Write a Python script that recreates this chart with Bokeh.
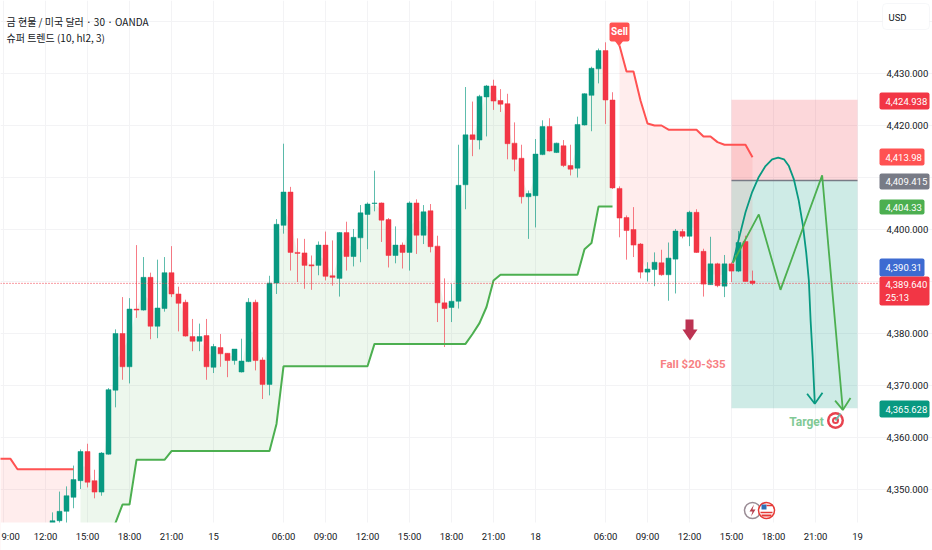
from bokeh.plotting import figure
from bokeh.models import (ColumnDataSource, FixedTicker, NumeralTickFormatter, Label, BoxAnnotation)
from bokeh.embed import file_html
from bokeh.resources import INLINE

# ---- data -------------------------------------------------------------
first_bar = 1
open_ = [4343.4,4344.0,4345.8,4348.5,4351.7,4357.3,4351.7,4349.5,4356.8,4369.1,
 4380.0,4373.6,4384.7,4384.5,4390.8,4381.4,4384.8,4391.7,4387.6,4386.0,
 4379.4,4378.5,4379.6,4373.5,4377.3,4376.2,4374.8,4372.6,4374.6,4386.0,
 4374.9,4370.2,4389.7,4400.8,4407.2,4395.6,4395.5,4393.2,4393.1,4397.0,
 4391.1,4390.6,4399.4,4394.8,4398.4,4402.9,4405.0,4405.1,4401.9,4395.0,
 4397.0,4395.6,4405.1,4398.9,4403.6,4396.8,4385.9,4385.0,4386.2,4408.6,
 4418.2,4417.2,4425.5,4427.6,4424.8,4424.2,4416.6,4413.7,4406.3,4406.5,
 4414.4,4419.8,4414.8,4416.1,4412.3,4411.8,4420.1,4425.8,4430.9,4434.4,
 4424.9,4407.9,4402.3,4400.0,4397.2,4391.8,4392.3,4393.6,4391.3,4394.3,
 4399.6,4398.7,4403.3,4395.8,4389.4,4393.4,4389.1,4393.4,4392.0,4397.7,4390.1]
high = [4345.6,4349.6,4350.6,4354.6,4357.7,4358.8,4353.8,4357.2,4369.5,4380.8,
 4387.0,4386.8,4397.0,4394.7,4391.7,4394.2,4394.7,4396.8,4389.0,4386.5,
 4382.8,4381.9,4382.8,4378.0,4379.9,4376.2,4377.0,4379.0,4386.8,4386.5,
 4375.4,4391.1,4402.0,4416.5,4408.2,4398.3,4398.2,4395.0,4397.7,4399.6,
 4397.9,4399.5,4401.5,4400.1,4404.7,4405.2,4411.3,4405.2,4402.2,4400.6,
 4397.5,4405.4,4405.8,4404.7,4404.9,4398.8,4390.6,4389.5,4416.3,4427.4,
 4424.6,4425.9,4427.8,4428.8,4427.0,4426.1,4420.6,4416.3,4407.5,4417.4,
 4421.0,4421.4,4416.7,4417.2,4416.3,4421.7,4426.2,4431.3,4434.8,4436.0,
 4426.4,4408.3,4402.7,4404.3,4397.4,4393.7,4395.6,4396.1,4397.5,4400.1,
 4400.1,4403.6,4403.9,4396.3,4398.6,4393.6,4395.1,4393.7,4399.7,4398.8,4392.1]
low = [4342.5,4343.0,4342.5,4346.4,4350.1,4350.4,4348.3,4348.8,4356.7,4365.8,
 4371.1,4370.4,4383.0,4384.4,4378.9,4379.1,4384.2,4387.0,4380.4,4379.4,
 4376.6,4376.6,4371.1,4372.4,4373.6,4371.6,4374.0,4372.5,4374.5,4372.9,
 4367.4,4368.1,4387.6,4399.2,4392.1,4389.9,4388.6,4388.4,4391.2,4390.2,
 4389.2,4387.1,4392.1,4392.9,4393.7,4396.2,4403.5,4397.6,4392.7,4393.5,
 4392.5,4392.1,4395.3,4397.2,4395.6,4382.2,4377.4,4382.2,4384.8,4403.9,
 4414.1,4415.4,4417.9,4423.0,4422.6,4413.5,4411.2,4405.0,4398.2,4400.4,
 4414.3,4415.0,4414.7,4412.0,4410.4,4410.0,4420.0,4418.9,4428.1,4420.3,
 4407.8,4398.5,4394.2,4394.7,4390.6,4390.0,4389.1,4391.1,4386.3,4387.7,
 4398.3,4396.8,4395.5,4387.1,4389.4,4388.9,4387.0,4389.9,4391.8,4390.0,4389.3]
close = [4344.0,4345.8,4348.8,4351.9,4357.3,4351.4,4349.5,4357.0,4369.2,4380.0,
 4373.6,4384.7,4384.5,4390.8,4381.4,4384.9,4391.7,4387.6,4385.8,4379.5,
 4378.5,4379.4,4373.6,4377.5,4376.1,4374.8,4377.0,4374.7,4386.0,4374.8,
 4370.2,4389.7,4401.0,4407.2,4395.6,4395.4,4393.1,4393.0,4397.0,4391.0,
 4390.8,4399.4,4394.8,4398.5,4403.2,4404.9,4405.1,4401.8,4395.0,4397.0,
 4395.6,4405.1,4398.9,4403.4,4396.7,4385.9,4384.8,4386.2,4408.5,4418.2,
 4417.3,4425.6,4427.6,4424.7,4424.1,4416.5,4413.5,4406.3,4406.9,4414.5,
 4419.8,4415.1,4416.6,4412.3,4411.6,4420.2,4426.1,4431.0,4434.4,4424.9,
 4408.0,4402.2,4399.8,4397.0,4391.8,4392.4,4393.7,4391.3,4394.5,4399.7,
 4398.7,4403.3,4395.6,4389.5,4393.4,4389.2,4393.4,4392.0,4397.5,4390.0,4389.64]

# supertrend: red from bar -7 to 4, green from bar 5 to 81, red from bar 82 to 101
trend_red_left = [4355.9,4355.9,4355.9,4353.9,4353.9,4353.9,4353.9,4353.9,4353.9,4353.9,4353.9,4353.9]
mid_left = [4335.0,4335.0,4335.0,4335.0,4335.0,4335.0,4335.0,4335.0]
trend_green = [4333.0,4333.0,4336.0,4338.0,4340.0,4343.6,4347.1,4347.1,
 4355.7,4355.7,4355.7,4355.7,4355.7,
 4357.4,4357.4,4357.4,4357.4,4357.4,4357.4,4357.4,4357.4,4357.4,4357.4,4357.4,4357.4,4357.4,4357.4,4357.4,
 4362.6,
 4373.7,4373.7,4373.7,4373.7,4373.7,4373.7,4373.7,4373.7,4373.7,4373.7,4373.7,4373.7,4373.7,
 4378.0,4378.0,4378.0,4378.0,4378.0,4378.0,4378.0,4378.0,4378.0,4378.0,4378.0,4378.0,4378.0,4378.0,
 4379.9,4382.0,4385.1,4390.2,
 4391.3,4391.3,4391.3,4391.3,4391.3,4391.3,4391.3,4391.3,4391.3,4391.3,4391.3,4391.3,
 4396.2,4397.4,4404.4,4404.4,4404.4]
trend_red_right = [4435.4,4430.4,4430.4,4424.8,4420.4,4420.0,4420.0,4419.2,4419.2,4419.2,
 4419.2,4419.2,4417.9,4417.9,4416.8,4416.3,4416.3,4416.3,4416.3,4413.9]

tick_bars = [-6,0,6,12,18,24,34,40,46,52,58,64,70,80,86,92,98,104,110,116]
tick_text = ["","12:00","15:00","18:00","21:00","15","06:00","09:00","12:00","15:00",
             "18:00","21:00","18","06:00","09:00","12:00","15:00","18:00","21:00","19"]
price_ticks = [4350,4360,4370,4380,4390,4400,4410,4420,4430,4440]

last_price = 4389.64
stop_price = 4424.938
entry_price = 4409.415
target_price = 4365.628
position_start = 98
position_end = 116

teal_x = [98.2,99.05,100.0,100.95,101.9,102.86,103.8,104.67,105.5,106.2,106.9,107.6,108.2,108.67,109.05,109.3,109.6,109.9]
teal_y = [4393.6,4398.2,4403.3,4407.2,4410.1,4412.2,4413.5,4413.8,4413.5,4412.2,4409.7,4405.6,4400.8,4395.6,4390.2,4382.5,4375.4,4366.5]
teal_head_x = [108.8,109.9,111.0]
teal_head_y = [4368.4,4366.5,4368.6]
path_x = [98.2,101.9,105.0,110.95,113.9]
path_y = [4393.6,4402.9,4388.4,4410.4,4365.3]
path_head_x = [112.8,113.9,115.0]
path_head_y = [4367.1,4365.3,4367.6]

# ---- style ------------------------------------------------------------
GREEN, RED = "#089981", "#F23645"
TG, TR = "#4CAF50", "#FF5252"
FONT = "Roboto"
SMALL = "9.5px"

def dx(px):
    return (px - 45) / 7
def py(y):
    return 4400 - (y - 229) / 5.2

p = figure(width=932, height=550,
           output_backend="svg", toolbar_location=None,
           x_range=(dx(0), dx(932)), y_range=(py(550), py(0)),
           y_axis_location="right", min_border_left=0, min_border_top=0,
           min_border_right=0, min_border_bottom=0, outline_line_color=None,
           background_fill_color="white", border_fill_color="white")

for ax in (p.xaxis[0], p.yaxis[0]):
    ax.axis_line_color = None
    ax.major_tick_line_color = None
    ax.minor_tick_line_color = None
    ax.major_label_text_color = "#131722"
    ax.major_label_text_font = FONT
    ax.major_label_text_font_size = SMALL
p.xaxis[0].ticker = FixedTicker(ticks=tick_bars)
p.xaxis[0].major_label_overrides = dict(zip(tick_bars, tick_text))
p.xaxis[0].major_label_standoff = 2
p.xaxis[0].fixed_location = py(522)
p.yaxis[0].ticker = FixedTicker(ticks=price_ticks)
p.yaxis[0].formatter = NumeralTickFormatter(format="0,0.000")
p.yaxis[0].major_label_standoff = 2
p.yaxis[0].fixed_location = dx(878)
p.xgrid[0].ticker = FixedTicker(ticks=tick_bars)
p.ygrid[0].ticker = FixedTicker(ticks=price_ticks)
p.xgrid[0].bounds = (py(522), py(0))
p.ygrid[0].bounds = (dx(0), dx(878))
p.xgrid.grid_line_color = "#F3F3F5"
p.ygrid.grid_line_color = "#F3F3F5"
p.add_layout(Label(x=dx(1), y=py(536), text="9:00", text_baseline="middle", text_color="#131722",
                   text_font=FONT, text_font_size=SMALL))

# position tool
p.quad(left=[position_start], right=[position_end], top=[stop_price], bottom=[entry_price],
       fill_color=RED, fill_alpha=0.2, line_color=None)
p.quad(left=[position_start], right=[position_end], top=[entry_price], bottom=[target_price],
       fill_color=GREEN, fill_alpha=0.2, line_color=None)

# supertrend fill
bars = list(range(first_bar, first_bar + len(open_)))
mid = [(a + b) / 2 for a, b in zip(open_, close)]
left_x = list(range(-7, 5))
left_mid = mid_left + mid[:4]
p.varea(x=left_x, y1=trend_red_left, y2=left_mid, fill_color=TR, fill_alpha=0.1)
green_x = list(range(5, 82))
p.varea(x=green_x, y1=trend_green, y2=mid[4:81], fill_color=TG, fill_alpha=0.1)
right_x = list(range(82, 102))
p.varea(x=right_x, y1=trend_red_right, y2=mid[81:], fill_color=TR, fill_alpha=0.1)

# candles
colors = [GREEN if c >= o else RED for o, c in zip(open_, close)]
src = ColumnDataSource(dict(x=bars, o=open_, h=high, l=low, c=close, color=colors))
p.segment("x", "h", "x", "l", source=src, line_color="color", line_alpha=0.65, line_width=1)
p.vbar(x="x", width=5/7, top="o", bottom="c", source=src, fill_color="color", line_color="color", line_width=0.5)

# supertrend lines
p.line(left_x, trend_red_left, line_color=TR, line_width=2)
p.line(green_x, trend_green, line_color=TG, line_width=2)
p.line(right_x, trend_red_right, line_color=TR, line_width=2)

# pane bottom edge: nothing of the series below the time scale
p.quad(left=[dx(0)], right=[dx(932)], top=[py(522)], bottom=[py(550)], fill_color="white", line_color=None)

# last price + entry
p.segment([dx(0)], [last_price], [dx(878)], [last_price], line_color=RED, line_dash="1 2", line_width=1)
p.segment([position_start], [entry_price], [position_end], [entry_price], line_color="#787B86", line_width=1.5)

# scenario paths
p.line(teal_x, teal_y, line_color=GREEN, line_width=1.8)
p.line(teal_head_x, teal_head_y, line_color=GREEN, line_width=1.8)
p.line(path_x, path_y, line_color=TG, line_width=1.8)
p.line(path_head_x, path_head_y, line_color=TG, line_width=1.8)

# Sell marker
p.add_layout(BoxAnnotation(left=dx(609), right=dx(629), top=py(22), bottom=py(41), fill_color=TR, fill_alpha=1,
                           line_alpha=0, border_radius=2))
p.patch([dx(614), dx(623), dx(618.5)], [py(40), py(40), py(46)], fill_color=TR, line_color=None)
p.add_layout(Label(x=dx(619), y=py(31), text="Sell", text_align="center", text_baseline="middle",
                   text_color="white", text_font=FONT, text_font_size="10px", text_font_style="bold"))

# down arrow
p.patch([dx(685), dx(693), dx(693), dx(697), dx(689.5), dx(682), dx(685)],
        [py(319), py(319), py(329), py(329), py(340), py(329), py(329)], fill_color="#BC3352", line_color=None)
p.add_layout(Label(x=dx(692.5), y=py(363), text="Fall $20-$35", text_align="center", text_baseline="middle",
                   text_color="#F77F83", text_font=FONT, text_font_size="11.5px", text_font_style="bold"))
p.add_layout(Label(x=dx(806), y=py(421), text="Target", text_align="center", text_baseline="middle",
                   text_color="#81C995", text_font=FONT, text_font_size="12px", text_font_style="bold"))

# target icon
for size, col in ((17, "#E8434F"), (12, "white"), (7, "#E8434F"), (3, "white")):
    p.scatter([dx(835)], [py(420)], size=size, marker="circle", fill_color=col, line_color=None)
p.segment([dx(835)], [py(420)], [dx(840)], [py(413)], line_color="#6FB7A8", line_width=2)

# event icons
p.scatter([dx(752)], [py(510)], size=16, marker="circle", fill_color="white", line_color="#9A8C95", line_width=1.5)
p.patch([dx(753.5), dx(749), dx(752), dx(750.5), dx(755), dx(752)],
        [py(504), py(511), py(511), py(516), py(509), py(509)], fill_color="#B5414F", line_color=None)
p.scatter([dx(766)], [py(510)], size=16, marker="circle", fill_color="white", line_color="#E53935", line_width=1.5)
p.quad(left=[dx(761)], right=[dx(766)], top=[py(504)], bottom=[py(509)], fill_color="#2F6FB5", line_color=None)
p.segment([dx(766), dx(760)], [py(505), py(512)], [dx(772), dx(772)], [py(505), py(512)], line_color="#E53935", line_width=1.5)
p.segment([dx(761)], [py(515)], [dx(771)], [py(515)], line_color="#E53935", line_width=2)

# title
p.add_layout(Label(x=dx(6), y=py(21), text="금 현물 / 미국 달러 · 30 · OANDA", text_baseline="middle",
                   text_color="#131722", text_font="Noto Sans CJK KR", text_font_size="10px"))
p.add_layout(Label(x=dx(6), y=py(37), text="슈퍼 트렌드 (10, hl2, 3)", text_baseline="middle",
                   text_color="#131722", text_font="Noto Sans CJK KR", text_font_size="10px"))

# USD button
p.add_layout(BoxAnnotation(left=dx(882), right=dx(929), top=py(3), bottom=py(29), fill_color="white", fill_alpha=1,
                           line_color="#E0E3EB", line_width=1, border_radius=4, level="overlay"))
p.add_layout(Label(x=dx(888), y=py(17), text="USD", text_baseline="middle", text_color="#131722",
                   text_font=FONT, text_font_size=SMALL, level="overlay"))

# price tags
tag_tops = [92, 148, 173, 199, 258, 276, 400]
tag_bottoms = [109, 165, 189, 214, 276, 305, 417]
tag_rights = [929, 924, 929, 924, 924, 929, 929]
tag_colors = [RED, "#FF5252", "#787B86", TG, "#3D6BD1", RED, GREEN]
tag_texts = ["4,424.938", "4,413.98", "4,409.415", "4,404.33", "4,390.31", "4,389.640", "4,365.628"]
for t, b, r, col, txt in zip(tag_tops, tag_bottoms, tag_rights, tag_colors, tag_texts):
    p.add_layout(BoxAnnotation(left=dx(879), right=dx(r), top=py(t), bottom=py(b), fill_color=col, fill_alpha=1,
                               line_alpha=0, border_radius=2, level="overlay"))
    yc = (t + b) / 2 if b - t < 20 else t + 8
    p.add_layout(Label(x=dx(885), y=py(yc), text=txt, text_baseline="middle", text_color="white",
                       text_font=FONT, text_font_size=SMALL, level="overlay"))
p.add_layout(Label(x=dx(885), y=py(297), text="25:13", text_baseline="middle", text_color="white",
                   text_font=FONT, text_font_size=SMALL, level="overlay"))

open("out.html", "w").write(file_html(p, INLINE))
